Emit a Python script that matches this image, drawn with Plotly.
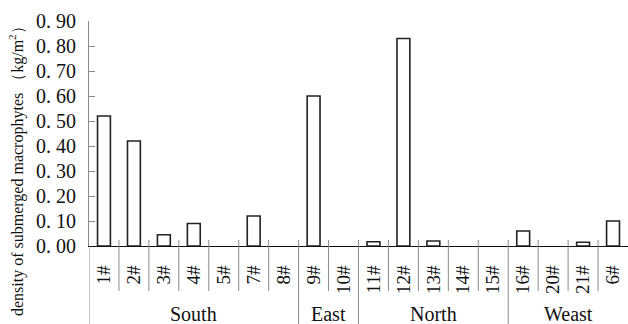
import plotly.graph_objects as go

# Sampling sites, their lake region and macrophyte biomass density (kg/m2)
sites = ["1#", "2#", "3#", "4#", "5#", "7#", "8#", "9#", "10#",
         "11#", "12#", "13#", "14#", "15#", "16#", "20#", "21#", "6#"]
regions = ["South"] * 7 + ["East"] * 2 + ["North"] * 5 + ["Weast"] * 4
density = [0.52, 0.42, 0.045, 0.09, 0.0, 0.12, 0.0, 0.60, 0.0,
           0.017, 0.83, 0.02, 0.0, 0.0, 0.06, 0.0, 0.015, 0.10]

y_ticks = [0.0, 0.1, 0.2, 0.3, 0.4, 0.5, 0.6, 0.7, 0.8, 0.9]
y_ticktext = [f"{v:.2f}".replace(".", ". ") for v in y_ticks]

FONT = "Liberation Serif"
W, H = 628, 324
M_L, M_R, M_T, M_B = 89, 0, 21, 78
plot_h = H - M_T - M_B


def py(px):
    """Pixel row -> paper y coordinate."""
    return (H - M_B - px) / plot_h


# zero-valued sites get no outline so nothing is drawn for them
outline_w = [1.6 if v > 0 else 0 for v in density]

fig = go.Figure(
    go.Bar(
        x=sites,
        y=density,
        width=0.43,
        marker=dict(color="white", line=dict(color="#222222", width=outline_w)),
    )
)

shapes = []
# Separators between sites; longer ones between regions
for i in range(len(sites) - 1):
    boundary = regions[i] != regions[i + 1]
    shapes.append(dict(
        type="line", xref="x", yref="paper",
        x0=i + 0.5, x1=i + 0.5,
        y0=py(240), y1=py(H if boundary else 291),
        line=dict(color="#8a8a8a", width=1),
    ))
# Left frame line continuing below the axis
shapes.append(dict(
    type="line", xref="x", yref="paper",
    x0=-0.5, x1=-0.5, y0=0, y1=py(H),
    line=dict(color="#8a8a8a", width=1),
))

annotations = []
# Region names centred under their sites
order = []
for r in regions:
    if r not in order:
        order.append(r)
for r in order:
    idx = [i for i, g in enumerate(regions) if g == r]
    annotations.append(dict(
        x=(idx[0] + idx[-1]) / 2, xref="x",
        y=py(314), yref="paper",
        text=r, showarrow=False,
        xanchor="center", yanchor="middle",
        font=dict(family=FONT, size=20, color="#111111"),
    ))
# Vertical axis title
annotations.append(dict(
    x=(16 - M_L) / (W - M_L - M_R), xref="paper",
    y=py(167), yref="paper",
    text="density of submerged macrophytes （kg/m<sup>2</sup>）",
    textangle=-90, showarrow=False,
    xanchor="center", yanchor="middle",
    font=dict(family=FONT, size=16, color="#111111"),
))

fig.update_layout(
    width=W, height=H,
    margin=dict(l=M_L, r=M_R, t=M_T, b=M_B, pad=0),
    paper_bgcolor="white",
    plot_bgcolor="white",
    showlegend=False,
    shapes=shapes,
    annotations=annotations,
    xaxis=dict(
        type="category",
        range=[-0.5, len(sites) - 0.5],
        showline=True, linecolor="#111111", linewidth=1,
        showgrid=False, zeroline=False,
        ticks="", tickangle=-90,
        ticklabelstandoff=11,
        tickfont=dict(family=FONT, size=19, color="#111111"),
    ),
    yaxis=dict(
        range=[0, 0.9],
        tickvals=y_ticks, ticktext=y_ticktext,
        showline=True, linecolor="#8a8a8a", linewidth=1,
        showgrid=False, zeroline=False,
        ticks="inside", ticklen=6, tickcolor="#8a8a8a",
        tickfont=dict(family=FONT, size=20, color="#111111"),
        ticklabelstandoff=8,
    ),
)

fig.write_html("out.html")
